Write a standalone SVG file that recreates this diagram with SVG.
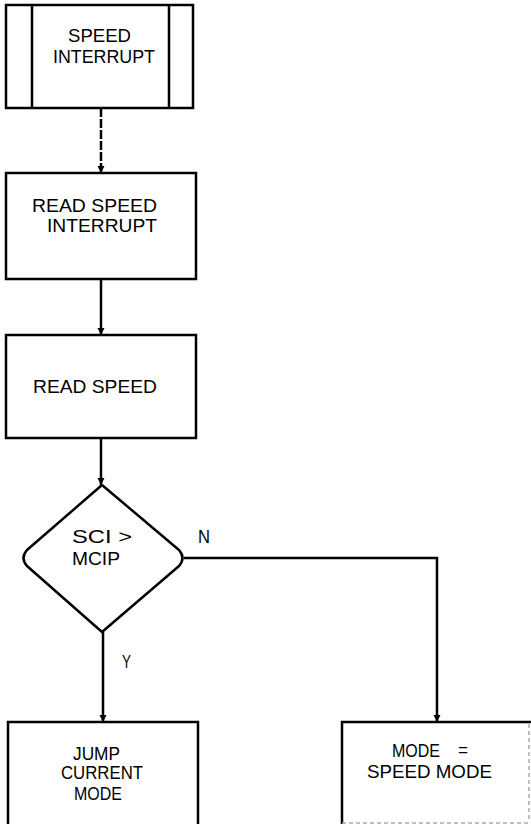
<svg xmlns="http://www.w3.org/2000/svg" width="531" height="824" viewBox="0 0 531 824">
<defs>
<style>
.box{fill:#fff;stroke:#000;stroke-width:2.5}
.ln{fill:none;stroke:#000;stroke-width:2.5}
.faint{fill:none;stroke:#aaa;stroke-width:1.5;stroke-dasharray:4,3}
.t{font-family:"Liberation Sans",Arial,sans-serif;font-size:19px;fill:#000}
</style>
<marker id="ah" viewBox="0 0 10 10" refX="10" refY="5" markerWidth="3" markerHeight="3" orient="auto" markerUnits="strokeWidth">
<path d="M0,0 L10,5 L0,10 Z" fill="#000"/>
</marker>
</defs>
<rect width="531" height="824" fill="#fff"/>
<g id="connectors">
<path class="ln" d="M101,108 V173" stroke-dasharray="9,2" marker-end="url(#ah)"/>
<path class="ln" d="M101,279 V335" marker-end="url(#ah)"/>
<path class="ln" d="M101,438 V485" marker-end="url(#ah)"/>
<path class="ln" d="M103,632 V722" marker-end="url(#ah)"/>
<path class="ln" d="M184,558 H437 V722" marker-end="url(#ah)"/>
<text class="t" x="198" y="543" textLength="12" lengthAdjust="spacingAndGlyphs">N</text>
<text class="t" x="122" y="668" textLength="9" lengthAdjust="spacingAndGlyphs">Y</text>
</g>
<g id="speed-interrupt">
<rect class="box" x="6" y="5" width="187" height="103"/>
<line class="ln" x1="32" y1="5" x2="32" y2="108"/>
<line class="ln" x1="169" y1="5" x2="169" y2="108"/>
<text class="t" x="68" y="42" textLength="63" lengthAdjust="spacingAndGlyphs">SPEED</text>
<text class="t" x="53" y="63" textLength="102" lengthAdjust="spacingAndGlyphs">INTERRUPT</text>
</g>
<g id="read-speed-interrupt">
<rect class="box" x="6" y="173" width="190" height="106"/>
<text class="t" x="32" y="212" textLength="125" lengthAdjust="spacingAndGlyphs">READ SPEED</text>
<text class="t" x="47" y="232" textLength="110" lengthAdjust="spacingAndGlyphs">INTERRUPT</text>
</g>
<g id="read-speed">
<rect class="box" x="6" y="335" width="190" height="103"/>
<text class="t" x="33" y="393" textLength="124" lengthAdjust="spacingAndGlyphs">READ SPEED</text>
</g>
<g id="decision">
<path class="box" stroke-linejoin="round" d="M102,485 L179,550 Q186,558 179,566 L102,632 L27,566 Q20,558 27,550 Z"/>
<text class="t" x="72" y="543" textLength="60" lengthAdjust="spacingAndGlyphs">SCI &gt;</text>
<text class="t" x="72" y="565" textLength="48" lengthAdjust="spacingAndGlyphs">MCIP</text>
</g>
<g id="jump-current-mode">
<path class="box" d="M8,830 V722 H198 V830"/>
<text class="t" x="73" y="760" textLength="47" lengthAdjust="spacingAndGlyphs">JUMP</text>
<text class="t" x="61" y="779" textLength="82" lengthAdjust="spacingAndGlyphs">CURRENT</text>
<text class="t" x="74" y="800" textLength="48" lengthAdjust="spacingAndGlyphs">MODE</text>
</g>
<g id="mode-speed-mode">
<path class="box" d="M342,830 V722 H540"/>
<path class="faint" d="M529,724 V822 M342,823 H531"/>
<text class="t" x="392" y="757" textLength="48" lengthAdjust="spacingAndGlyphs">MODE</text>
<text class="t" x="458" y="756" textLength="10" lengthAdjust="spacingAndGlyphs">=</text>
<text class="t" x="367" y="778" textLength="125" lengthAdjust="spacingAndGlyphs">SPEED MODE</text>
</g>
</svg>
